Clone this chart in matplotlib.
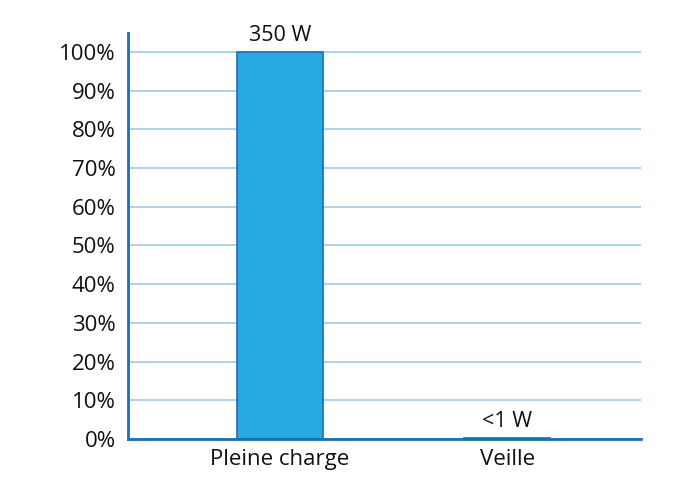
import matplotlib
matplotlib.use("Agg")
import matplotlib.pyplot as plt
from matplotlib.ticker import FuncFormatter

categories = ["Pleine charge", "Veille"]
values = [100, 1 / 350 * 100]
labels = ["350 W", "<1 W"]
face_colors = ["#29A9E1", "#2E8B3E"]
edge_colors = ["#1670B8", "#2E7D32"]

plt.rcParams['font.family'] = ['Open Sans', 'DejaVu Sans']

fig = plt.figure(figsize=(7, 5), dpi=100)
ax = fig.add_axes([128 / 700, 1 - 439 / 500, 513 / 700, (439 - 33) / 500])

x = list(range(len(categories)))
bars = ax.bar(x, values, width=0.38, color=face_colors, edgecolor=edge_colors, linewidth=1.2, zorder=3)
for xi, v, lab in zip(x, values, labels):
    ax.text(xi, v + 1.5, lab, ha='center', va='bottom', fontsize=15.5, color='#111111')

ax.set_xlim(-0.67, 1.59)
ax.set_ylim(0, 104.9)
ax.set_yticks(range(0, 101, 10))
ax.yaxis.set_major_formatter(FuncFormatter(lambda v, p: f"{int(v)}%"))
ax.set_xticks(x)
ax.set_xticklabels(categories)
ax.tick_params(axis='both', length=0, labelsize=16, colors='#111111')
ax.tick_params(axis='x', pad=7)
ax.tick_params(axis='y', pad=9)
ax.yaxis.grid(True, color='#9FCBE6', linewidth=1.2, zorder=0)
for s in ['top', 'right']:
    ax.spines[s].set_visible(False)
ax.spines['left'].set_color('#1670C0')
ax.spines['left'].set_linewidth(2)
ax.spines['bottom'].set_color('#1670C0')
ax.spines['bottom'].set_linewidth(2)
ax.spines['bottom'].set_zorder(4)

fig.savefig('out.png', dpi=100)
